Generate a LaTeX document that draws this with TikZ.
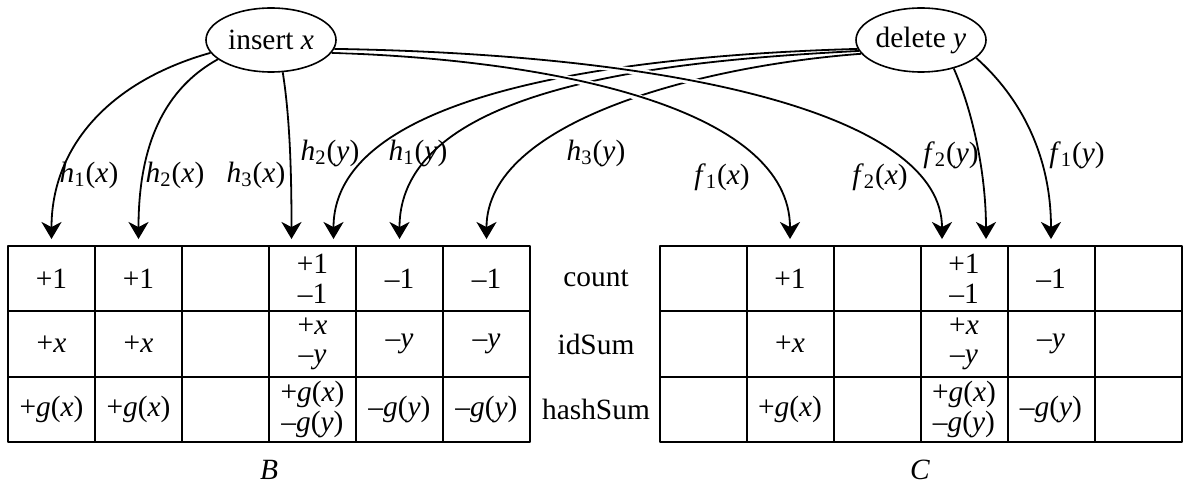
\documentclass[tikz,border=0pt]{standalone}
\usepackage{fontspec}
\setmainfont{Liberation Serif}
\usetikzlibrary{arrows.meta,backgrounds,shapes.geometric}
\newcommand{\hfn}[3]{\textit{#1}\textsubscript{#2}(\textit{#3})}
\newcommand{\vx}{\textit{x}}
\newcommand{\vy}{\textit{y}}
\tikzset{cell/.style={draw,line width=1pt,minimum width=43.5pt,minimum height=32.67pt,inner sep=0pt,outer sep=0pt,align=center,font=\fontsize{14.7}{14.7}\selectfont},
  op/.style={ellipse,draw,fill=white,line width=0.8pt,minimum width=65pt,minimum height=32pt,inner sep=0pt},
  edge/.style={-{Stealth[length=8.5pt,width=10pt,inset=2.5pt]},line width=0.9pt,shorten >=3.5pt},
  xedge/.style={edge,preaction={draw=white,line width=3.2pt,-}}}

\begin{document}
\begin{tikzpicture}[x=0.5pt,y=0.5pt,line join=round,font=\fontsize{14.7}{16}\selectfont]
\useasboundingbox (0,0) rectangle (1184,493);
% --- the two operations
\node[op] (ins) at (271,453) {insert \vx};
\node[op] (del) at (921,453) {delete \vy};
% --- table B
\foreach \txt [count=\c] in {+1,+1,{},{+1\\--1},--1,--1}
  \node[cell] (B1\c) at ({51.5+87*(\c-1)},214.3) {\txt};
\foreach \txt [count=\c] in {+\vx,+\vx,{},{+\vx\\--\vy},--\vy,--\vy}
  \node[cell] (B2\c) at ({51.5+87*(\c-1)},149) {\txt};
\foreach \txt [count=\c] in {+\textit{g}(\vx),+\textit{g}(\vx),{},{+\textit{g}(\vx)\\--\textit{g}(\vy)},--\textit{g}(\vy),--\textit{g}(\vy)}
  \node[cell] (B3\c) at ({51.5+87*(\c-1)},83.7) {\txt};
\node (labB) at (269,23) {\textit{B}};
% --- table C
\foreach \txt [count=\c] in {{},+1,{},{+1\\--1},--1,{}}
  \node[cell] (C1\c) at ({703+87*(\c-1)},214.3) {\txt};
\foreach \txt [count=\c] in {{},+\vx,{},{+\vx\\--\vy},--\vy,{}}
  \node[cell] (C2\c) at ({703+87*(\c-1)},149) {\txt};
\foreach \txt [count=\c] in {{},+\textit{g}(\vx),{},{+\textit{g}(\vx)\\--\textit{g}(\vy)},--\textit{g}(\vy),{}}
  \node[cell] (C3\c) at ({703+87*(\c-1)},83.7) {\txt};
\node (labC) at (920,23) {\textit{C}};
% --- row names
\node (rcount) at (596,214.3) {count};
\node (rid) at (596,149) {idSum};
\node (rhash) at (596,83.7) {hashSum};
% --- hash labels
\node (lh1x) at (89,318) {\hfn{h}{1}{x}};
\node (lh2x) at (175,318) {\hfn{h}{2}{x}};
\node (lh3x) at (256,318) {\hfn{h}{3}{x}};
\node (lh2y) at (330,340) {\hfn{h}{2}{y}};
\node (lh1y) at (418,340) {\hfn{h}{1}{y}};
\node (lh3y) at (596,340) {\hfn{h}{3}{y}};
\node (lf1x) at (722,316) {\hfn{f}{1}{x}};
\node (lf2x) at (880,316) {\hfn{f}{2}{x}};
\node (lf2y) at (951,338) {\hfn{f}{2}{y}};
\node (lf1y) at (1077,338) {\hfn{f}{1}{y}};
\begin{pgfonlayer}{background}
% delete y first, the insert x edges cut through it
\draw[edge] (del.188) .. controls +(-210,-6) and +(0,160) .. ([xshift=10.5pt]B14.north);
\draw[edge] (del.190) .. controls +(-170,-9) and +(0,165) .. (B15.north);
\draw[edge] (del.193) .. controls +(-160,-12) and +(0,125) .. (B16.north);
\draw[edge] (del.-41) .. controls +(20,-45) and +(0,70) .. ([xshift=11pt]C14.north);
\draw[edge] (del.-18) .. controls +(45,-40) and +(0,90) .. (C15.north);
% insert x
\draw[xedge] (ins.192) .. controls +(-100,-28) and +(0,100) .. (B11.north);
\draw[xedge] (ins.200) .. controls +(-60,-33) and +(0,90) .. (B12.north);
\draw[xedge] (ins.290) .. controls +(8,-50) and +(0,60) .. ([xshift=-10.5pt]B14.north);
\draw[xedge] (ins.-12) .. controls +(229,-7) and +(0,136) .. (C12.north);
\draw[xedge] (ins.-8) .. controls +(366,-6) and +(0,126) .. ([xshift=-11pt]C14.north);
\end{pgfonlayer}
\end{tikzpicture}
\end{document}
